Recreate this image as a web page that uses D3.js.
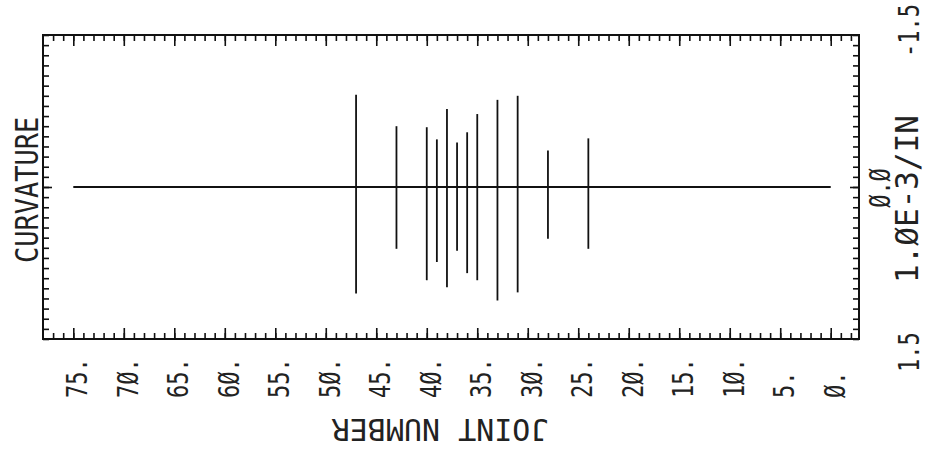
<!DOCTYPE html>
<html>
<head>
<meta charset="utf-8">
<script src="https://cdn.jsdelivr.net/npm/d3@7"></script>
<style>
    body { margin: 0; background: #fff; }
    text { font-family: "DejaVu Sans Mono", monospace; fill: #222; }
    .axis line { stroke: #111; stroke-width: 1.6; }
    .axis path { display: none; }
</style>
</head>
<body>
<svg id="chart" width="929" height="455"></svg>
<script>
// joints with a curvature spike, and the min / max curvature read at each one (1.0E-3/IN)
const joints = [47, 43, 40, 39, 38, 37, 36, 35, 33, 31, 28, 24];
const curvMin = [-0.91, -0.60, -0.59, -0.47, -0.77, -0.44, -0.54, -0.72, -0.86, -0.90, -0.36, -0.48];
const curvMax = [1.05, 0.61, 0.92, 0.74, 0.99, 0.63, 0.85, 0.92, 1.12, 1.04, 0.51, 0.61];

// the zero baseline runs from the first to the last joint
const baseJoints = [75, 0];

const xTicks = [75, 70, 65, 60, 55, 50, 45, 40, 35, 30, 25, 20, 15, 10, 5, 0];
const xTickLabels = ["75.", "7Ø.", "65.", "6Ø.", "55.", "5Ø.", "45.", "4Ø.", "35.", "3Ø.", "25.", "2Ø.", "15.", "1Ø.", "5.", "Ø."];
const yEndTicks = [-1.5, 1.5];
const yEndLabels = ["-1.5", "1.5"];
const yZeroLabel = "Ø.Ø";

const svg = d3.select("#chart");

let x = d3.scaleLinear().domain([78, -2.8]).range([43, 859]);
let y = d3.scaleLinear().domain([-1.5, 1.5]).range([35, 339]);

let xMinor = d3.range(-2, 78);
let yMinor = d3.range(-15, 16).map(d => d / 10);

// ticks on all four sides, pointing inward
svg.append("g").classed("axis", true).attr("transform", "translate(0," + y(-1.5) + ")")
    .call(d3.axisTop(x).tickValues(xMinor).tickSize(-6).tickFormat(""));
svg.append("g").classed("axis", true).attr("transform", "translate(0," + y(-1.5) + ")")
    .call(d3.axisTop(x).tickValues(xTicks).tickSize(-11).tickFormat(""));
svg.append("g").classed("axis", true).attr("transform", "translate(0," + y(1.5) + ")")
    .call(d3.axisBottom(x).tickValues(xMinor).tickSize(-6).tickFormat(""));
svg.append("g").classed("axis", true).attr("transform", "translate(0," + y(1.5) + ")")
    .call(d3.axisBottom(x).tickValues(xTicks).tickSize(-11).tickFormat(""));
svg.append("g").classed("axis", true).attr("transform", "translate(" + x(78) + ",0)")
    .call(d3.axisLeft(y).tickValues(yMinor).tickSize(-6).tickFormat(""));
svg.append("g").classed("axis", true).attr("transform", "translate(" + x(78) + ",0)")
    .call(d3.axisLeft(y).tickValues([0]).tickSize(-9).tickFormat(""));
svg.append("g").classed("axis", true).attr("transform", "translate(" + x(-2.8) + ",0)")
    .call(d3.axisRight(y).tickValues(yMinor).tickSize(-6).tickFormat(""));
svg.append("g").classed("axis", true).attr("transform", "translate(" + x(-2.8) + ",0)")
    .call(d3.axisRight(y).tickValues([0]).tickSize(-9).tickFormat(""));

// frame
svg.append("rect")
    .attr("x", x(78)).attr("y", y(-1.5))
    .attr("width", x(-2.8) - x(78)).attr("height", y(1.5) - y(-1.5))
    .attr("fill", "none").attr("stroke", "#111").attr("stroke-width", 2);

// zero line
svg.append("line")
    .attr("x1", x(baseJoints[0])).attr("x2", x(baseJoints[1]))
    .attr("y1", y(0)).attr("y2", y(0))
    .attr("stroke", "#111").attr("stroke-width", 1.8);

// curvature spikes
svg.selectAll(".spike").data(joints).join("line").classed("spike", true)
    .attr("x1", d => x(d)).attr("x2", d => x(d))
    .attr("y1", (d, i) => y(curvMin[i])).attr("y2", (d, i) => y(curvMax[i]))
    .attr("stroke", "#111").attr("stroke-width", 1.8);

// x tick labels, reading bottom to top, tall plotter lettering
svg.selectAll(".xlab").data(xTicks).join("text").classed("xlab", true)
    .attr("transform", d => "translate(" + (x(d) + 14) + ",398) rotate(-90) scale(1,1.25)")
    .attr("font-size", 22)
    .text((d, i) => xTickLabels[i]);

// y end labels sit one column out from the frame
svg.selectAll(".ylab").data(yEndTicks).join("text").classed("ylab", true)
    .attr("transform", d => d < 0
        ? "translate(919,4) rotate(-90) scale(1,1.25)"
        : "translate(919," + (y(d) + 33) + ") rotate(-90) scale(1,1.25)")
    .attr("text-anchor", d => d < 0 ? "end" : "start")
    .attr("font-size", 22)
    .text((d, i) => yEndLabels[i]);

// zero label right next to the frame
svg.append("text")
    .attr("transform", "translate(890," + (y(0) + 1) + ") rotate(-90) scale(1,1.25)")
    .attr("text-anchor", "middle")
    .attr("font-size", 22)
    .text(yZeroLabel);

svg.append("text")
    .attr("transform", "translate(918,199) rotate(-90) scale(1,1.05)")
    .attr("text-anchor", "middle").attr("font-size", 31)
    .text("1.ØE-3/IN");

svg.append("text")
    .attr("transform", "translate(38,190) rotate(-90) scale(1,1.2)")
    .attr("text-anchor", "middle").attr("font-size", 27)
    .text("CURVATURE");

svg.append("text")
    .attr("transform", "translate(440,419) rotate(180)")
    .attr("text-anchor", "middle").attr("font-size", 30)
    .text("JOINT NUMBER");
</script>
</body>
</html>
